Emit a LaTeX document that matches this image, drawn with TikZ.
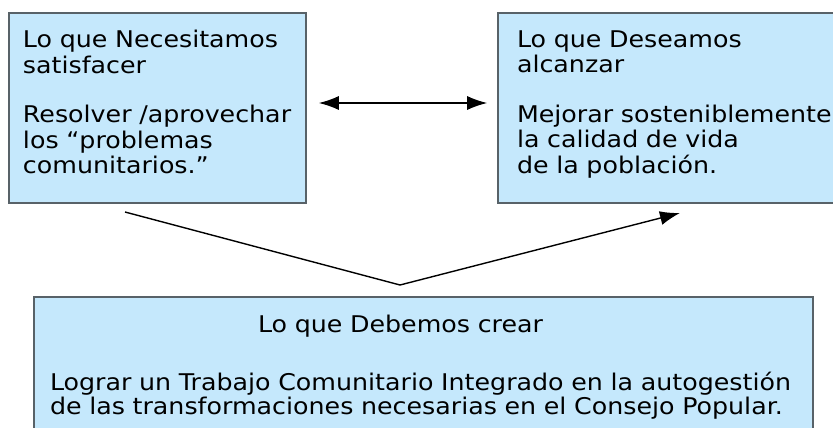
\documentclass[tikz,border=0pt]{standalone}
\usepackage{fontspec}
\setmainfont{DejaVu Sans}[FakeStretch=1.1]
\usetikzlibrary{arrows.meta}
\definecolor{boxblue}{RGB}{197,232,252}
\definecolor{boxline}{RGB}{88,98,104}

\begin{document}
\begin{tikzpicture}[x=1pt, y=-1pt]
		\useasboundingbox (0,0) rectangle (833,428);
		\tikzstyle{every node} = [rectangle, draw=boxline, fill=boxblue, line width=1.6pt, align=left, inner sep=0pt, font=\fontsize{23}{25.5}\selectfont]
		\node (need) at (157.5,108) [minimum width=297pt, minimum height=190pt, text width=269pt, text depth=138pt] {Lo que Necesitamos\\satisfacer\\[24pt]\mbox{Resolver /aprovechar}\\los “problemas\\comunitarios.”};
		\node (want) at (666,108) [minimum width=336pt, minimum height=190pt, text width=298pt, text depth=138pt] {Lo que Deseamos\\alcanzar\\[24pt]\mbox{Mejorar sosteniblemente}\\la calidad de vida\\de la población.};
		\node (create) at (423.5,296) [anchor=north, minimum width=779pt, text width=747pt, inner ysep=18pt, font=\fontsize{23}{24}\selectfont] {\hspace*{208pt}Lo que Debemos crear\\[34pt]\mbox{Lograr un Trabajo Comunitario Integrado en la autogestión}\\\mbox{de las transformaciones necesarias en el Consejo Popular.}};

		\coordinate (vstart) at (125,212);
		\coordinate (apex) at (400,285);
		\coordinate (vend) at (680,213);

		\tikzstyle{tip} = [line width=1.4pt]
		\draw [tip, {Latex[length=20pt,width=14pt]}-{Latex[length=20pt,width=14pt]}, shorten <=12pt, shorten >=10pt] ([yshift=5pt]need.east) -- ([yshift=5pt]want.west);
		\draw [tip, -{Latex[length=20pt,width=14pt]}] (vstart) -- (apex) -- (vend);
\end{tikzpicture}
\end{document}
